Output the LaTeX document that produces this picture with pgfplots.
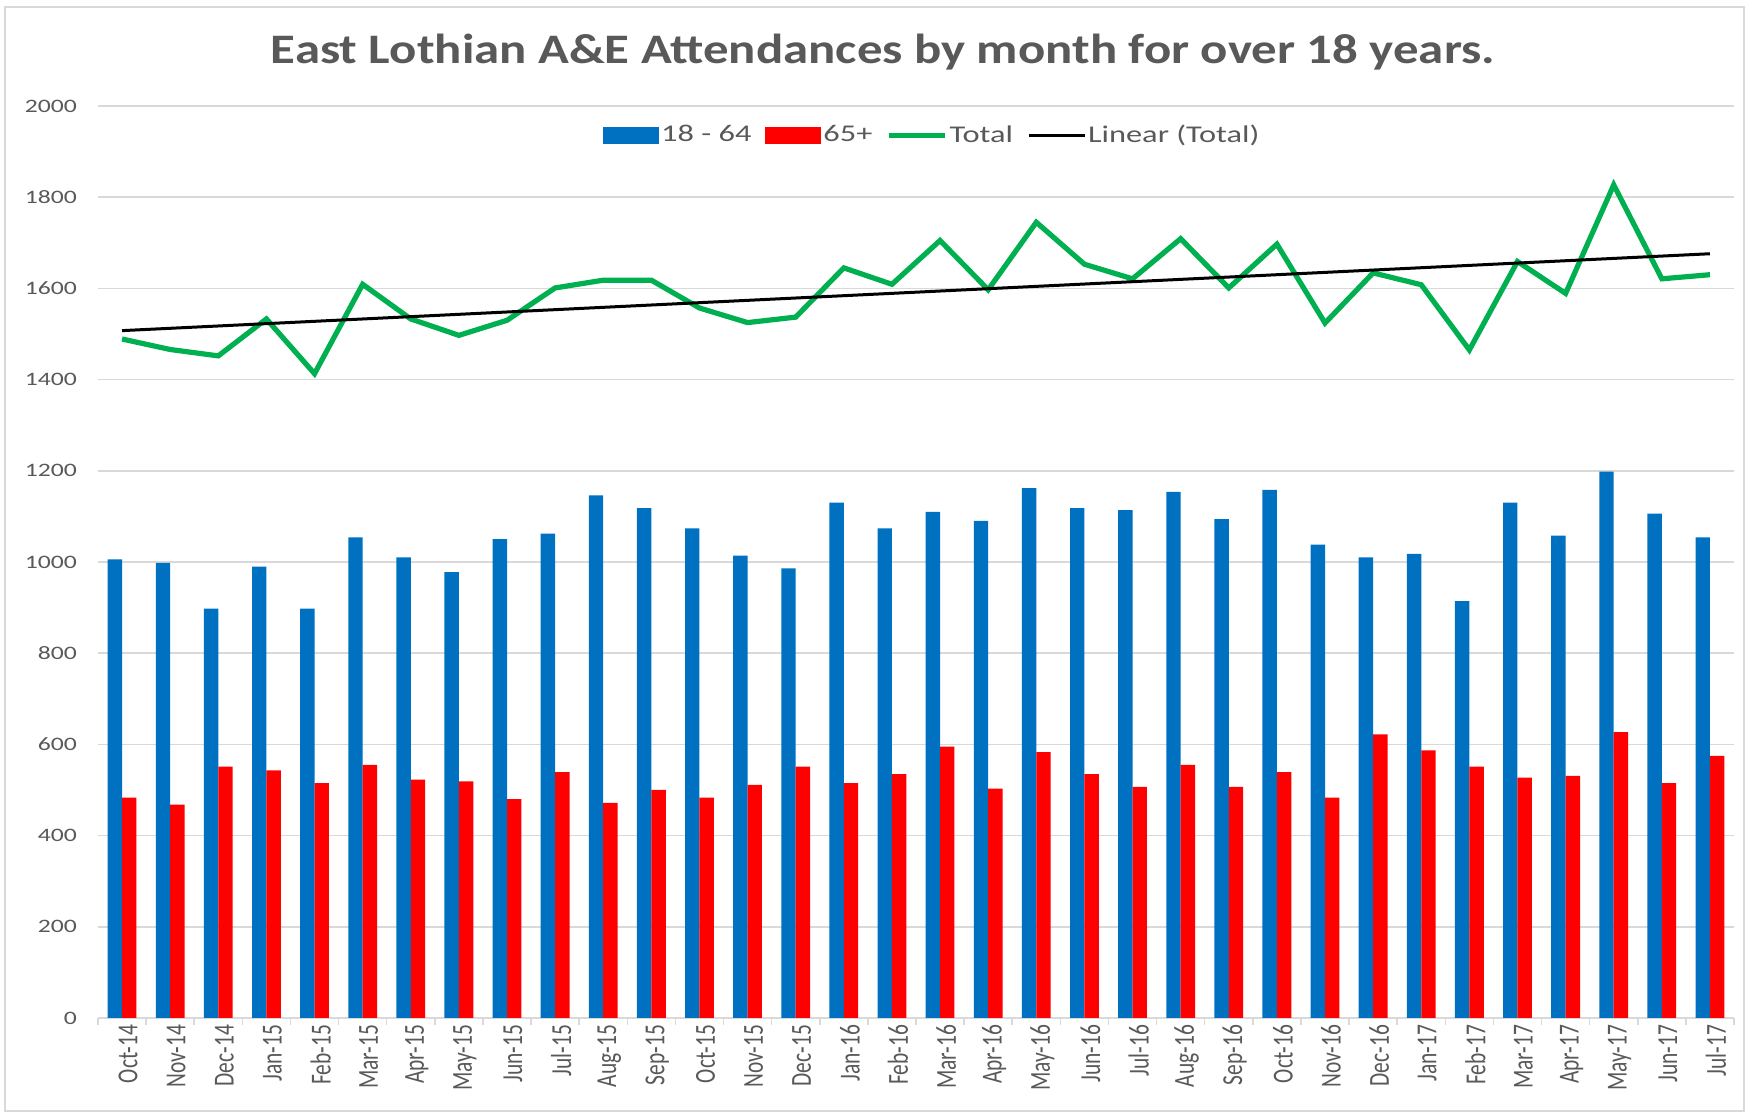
\documentclass[border=0pt]{standalone}
\usepackage{fontspec}
\setmainfont{Carlito}
\newfontfamily\tickfont{Carlito}[FakeStretch=1.35]
\newfontfamily\xlabfont{Carlito}[FakeStretch=0.74]
\newfontfamily\titlefont{Carlito}[FakeStretch=1.21]
\usepackage{pgfplots}
\usepackage{pgfplotstable}
\pgfplotsset{compat=1.18}
\definecolor{xlblue}{HTML}{0070C0}
\definecolor{xlred}{HTML}{FF0000}
\definecolor{xlgreen}{HTML}{00B050}
\definecolor{txtgray}{HTML}{595959}
\definecolor{gridgray}{HTML}{D9D9D9}

% monthly A&E attendances, 18-64 / 65+ / total
\pgfplotstableread{
idx lab young old total
0 Oct-14 1006 483 1489
1 Nov-14 998 468 1466
2 Dec-14 898 551 1452
3 Jan-15 990 543 1533
4 Feb-15 898 515 1413
5 Mar-15 1054 555 1609
6 Apr-15 1010 523 1533
7 May-15 978 519 1497
8 Jun-15 1050 480 1530
9 Jul-15 1062 539 1601
10 Aug-15 1146 472 1618
11 Sep-15 1118 500 1618
12 Oct-15 1074 483 1557
13 Nov-15 1014 511 1525
14 Dec-15 986 551 1537
15 Jan-16 1130 515 1645
16 Feb-16 1074 535 1609
17 Mar-16 1110 595 1705
18 Apr-16 1090 503 1597
19 May-16 1162 583 1745
20 Jun-16 1118 535 1653
21 Jul-16 1114 507 1621
22 Aug-16 1154 555 1709
23 Sep-16 1094 507 1601
24 Oct-16 1158 539 1697
25 Nov-16 1038 483 1524
26 Dec-16 1010 622 1634
27 Jan-17 1018 587 1608
28 Feb-17 914 551 1465
29 Mar-17 1130 527 1659
30 Apr-17 1058 531 1589
31 May-17 1198 627 1827
32 Jun-17 1106 515 1621
33 Jul-17 1054 575 1630
}\attend

\begin{document}
\begin{tikzpicture}
\useasboundingbox (-49bp,-48.5bp) rectangle (826.5bp,509bp);
\draw[gridgray, line width=1bp] (-46.5bp,-46.5bp) rectangle (823bp,505.5bp);
\node[font=\titlefont\bfseries\fontsize{21bp}{25bp}\selectfont, text=txtgray]
  at (392.5bp,483bp) {East Lothian A\&E Attendances by month for over 18 years.};
\begin{axis}[
  at={(0,0)}, anchor=south west,
  scale only axis, width=818bp, height=456bp,
  xmin=-0.5, xmax=33.5, ymin=0, ymax=2000,
  axis x line*=bottom, axis y line*=left,
  x axis line style={gridgray, line width=0.75bp},
  y axis line style={draw=none},
  ytick={0,200,...,2000},
  ymajorgrids, grid style={gridgray, line width=0.75bp},
  ytick style={draw=none},
  yticklabel style={font=\tickfont\fontsize{9.5bp}{11bp}\selectfont, text=txtgray, xshift=-7bp},
  /pgf/number format/assume math mode=true,
  /pgf/number format/1000 sep={},
  xtick={0,...,33},
  xticklabels={Oct-14,Nov-14,Dec-14,Jan-15,Feb-15,Mar-15,Apr-15,May-15,Jun-15,Jul-15,
    Aug-15,Sep-15,Oct-15,Nov-15,Dec-15,Jan-16,Feb-16,Mar-16,Apr-16,May-16,Jun-16,
    Jul-16,Aug-16,Sep-16,Oct-16,Nov-16,Dec-16,Jan-17,Feb-17,Mar-17,Apr-17,May-17,
    Jun-17,Jul-17},
  xticklabel style={font=\xlabfont\fontsize{14.5bp}{16bp}\selectfont, text=txtgray,
    rotate=90, anchor=east, yshift=-3bp},
  xtick style={gridgray, line width=0.75bp},
  major tick length=0bp,
  extra x ticks={-0.5,0.5,...,33.5},
  extra x tick labels={},
  extra x tick style={major tick length=3.5bp, tick align=outside},
  legend columns=-1,
  legend style={at={(axis description cs:0.51,0.968)}, anchor=center,
    draw=none, fill=none, text=txtgray,
    font=\tickfont\fontsize{12bp}{14bp}\selectfont,
    nodes={inner xsep=1bp},
    /tikz/every even column/.append style={column sep=6bp}},
]
\addplot[ybar, bar width=7.2bp, bar shift=-3.6bp, fill=xlblue, draw=none,
  legend image code/.code={\fill[xlblue] (0bp,-4.25bp) rectangle (28bp,4.25bp);}]
  table[x=idx, y=young] {\attend};
\addplot[ybar, bar width=7.2bp, bar shift=3.6bp, fill=xlred, draw=none,
  legend image code/.code={\fill[xlred] (0bp,-4.25bp) rectangle (28bp,4.25bp);}]
  table[x=idx, y=old] {\attend};
\addplot[xlgreen, line width=2.6bp, sharp plot, mark=none, line join=miter,
  legend image code/.code={\draw[xlgreen, line width=2.6bp] (0bp,0bp) -- (28bp,0bp);}]
  table[x=idx, y=total] {\attend};
\addplot[black, line width=1.5bp, sharp plot, mark=none,
  legend image code/.code={\draw[black, line width=1.5bp] (0bp,0bp) -- (28bp,0bp);}]
  table[x=idx, y={create col/linear regression={y=total}}] {\attend};
\legend{18 - 64, 65+, Total, Linear (Total)}
\end{axis}
\end{tikzpicture}
\end{document}
